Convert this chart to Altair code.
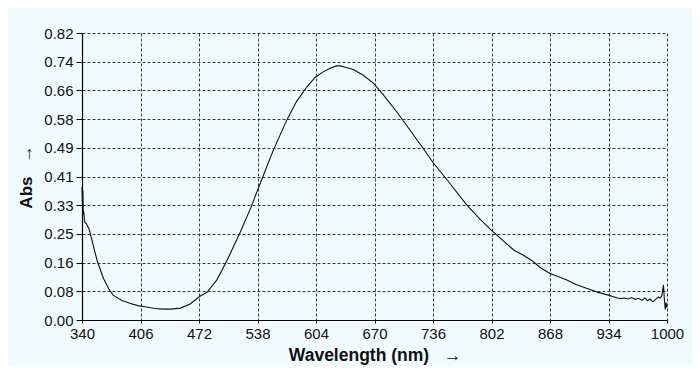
import altair as alt
import pandas as pd

wavelength = [340, 340.5, 341, 341.5, 342, 343, 345, 348, 352, 357, 364, 370, 375, 385, 394, 403, 413, 422,
              431, 440, 451, 462, 473, 481, 492, 503, 518, 531, 541, 556, 571, 582, 594, 603, 612, 620, 627,
              631, 637, 646, 657, 669, 680, 695, 710, 725, 736, 752, 774, 789, 802, 815, 827, 838, 849, 858,
              868, 877, 887, 898, 910, 922, 934, 940, 944, 948, 952, 956, 960, 964, 968, 972, 975, 978, 981,
              984, 987, 990, 992, 994, 996, 997, 998, 999, 1000]
absorbance = [0.38, 0.33, 0.37, 0.30, 0.31, 0.28, 0.275, 0.26, 0.22, 0.17, 0.12, 0.09, 0.071, 0.056, 0.048,
              0.041, 0.037, 0.033, 0.031, 0.031, 0.034, 0.046, 0.068, 0.079, 0.114, 0.167, 0.248, 0.324, 0.39,
              0.486, 0.571, 0.624, 0.667, 0.693, 0.709, 0.719, 0.726, 0.726, 0.722, 0.716, 0.70, 0.676, 0.643,
              0.595, 0.543, 0.49, 0.45, 0.40, 0.329, 0.288, 0.256, 0.227, 0.20, 0.185, 0.167, 0.148, 0.133,
              0.124, 0.114, 0.101, 0.09, 0.079, 0.071, 0.066, 0.063, 0.061, 0.063, 0.060, 0.064, 0.059, 0.062,
              0.056, 0.063, 0.055, 0.060, 0.052, 0.058, 0.066, 0.062, 0.068, 0.10, 0.06, 0.03, 0.05, 0.035]

x_ticks = [340, 406, 472, 538, 604, 670, 736, 802, 868, 934, 1000]
y_ticks = [0.0, 0.082, 0.164, 0.246, 0.328, 0.41, 0.492, 0.574, 0.656, 0.738, 0.82]
y_labels = ["0.00", "0.08", "0.16", "0.25", "0.33", "0.41", "0.49", "0.58", "0.66", "0.74", "0.82"]

df = pd.DataFrame({"wl": wavelength, "abs": absorbance})

label_expr = "[" + ",".join("'%s'" % s for s in y_labels) + "][round(datum.value / 0.082)]"

BG = "#f0fbfe"
GRID = "#3a3a3a"
NB = "\u00a0"

chart = alt.Chart(df).mark_line(color="#111111", strokeWidth=1.1).encode(
    x=alt.X("wl:Q",
            scale=alt.Scale(domain=[340, 1000], nice=False, zero=False),
            axis=alt.Axis(values=x_ticks, title="Wavelength (nm)" + NB * 3 + "→", format="d",
                          grid=True, gridColor=GRID, gridDash=[3, 2], gridWidth=1, gridOpacity=1,
                          domainColor="#000000", domainWidth=1.2,
                          tickColor="#000000", tickSize=3, labelPadding=3,
                          labelFont="Liberation Sans", labelFontSize=15, labelColor="#111111",
                          titleFont="Liberation Sans", titleFontSize=17.5, titleFontWeight="bold",
                          titleColor="#111111", titlePadding=5, labelFlush=False)),
    y=alt.Y("abs:Q",
            scale=alt.Scale(domain=[0, 0.82], nice=False, zero=True),
            axis=alt.Axis(values=y_ticks, title="Abs" + NB * 3 + "→", labelExpr=label_expr,
                          grid=True, gridColor=GRID, gridDash=[3, 2], gridWidth=1, gridOpacity=1,
                          domainColor="#000000", domainWidth=1.2,
                          tickColor="#000000", tickSize=6, labelPadding=3,
                          labelFont="Liberation Sans", labelFontSize=15, labelColor="#111111",
                          titleFont="Liberation Sans", titleFontSize=17, titleFontWeight="bold",
                          titleColor="#111111", titlePadding=8, labelFlush=False)),
).properties(
    width=585,
    height=287,
    background=BG,
    autosize=alt.AutoSizeParams(type="none"),
    padding={"left": 74, "top": 25, "right": 25, "bottom": 46},
).configure_view(
    stroke=None,
    fill=BG,
)

chart.save("out.html", embed_options={"renderer": "svg", "actions": False})
